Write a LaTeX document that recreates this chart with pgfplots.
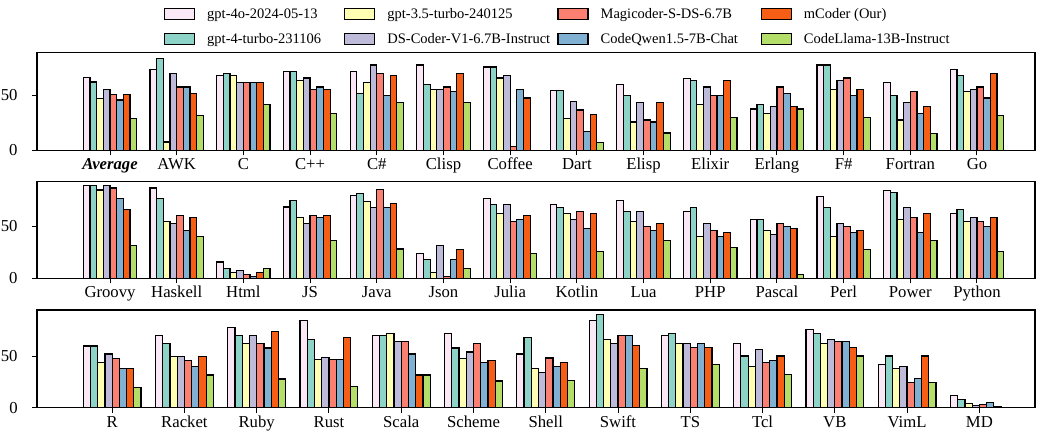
\documentclass[border=0pt]{standalone}
\usepackage{fontspec}
\setmainfont{Liberation Serif}
\usepackage{pgfplots}
\usepackage{pgfplotstable}
\pgfplotsset{compat=1.18}

\definecolor{cA}{HTML}{FBE8F6}
\definecolor{cB}{HTML}{8DD3C7}
\definecolor{cC}{HTML}{FFFFB3}
\definecolor{cD}{HTML}{BEBADA}
\definecolor{cE}{HTML}{FB8072}
\definecolor{cF}{HTML}{80B1D3}
\definecolor{cG}{HTML}{F65E16}
\definecolor{cH}{HTML}{B3DE69}

% columns: a=gpt-4o b=gpt-4-turbo c=gpt-3.5 d=DS-Coder e=Magicoder f=CodeQwen g=mCoder h=CodeLlama
\pgfplotstableread{
a b c d e f g h
65.6 61.7 47.0 55.1 50.6 45.5 50.6 28.6
73.2 83.1 7.5 69.3 57.2 57.2 51.2 31.3
67.5 69.3 67.5 61.1 61.1 61.1 61.1 41.6
71.4 71.4 63.3 65.4 55.1 57.2 55.1 33.4
71.4 51.2 61.1 77.1 69.3 49.4 67.5 43.4
77.1 59.3 55.1 55.1 57.2 53.3 69.3 43.4
75.3 75.3 65.4 67.5 3.3 55.1 47.3 0
54.2 54.2 28.6 44.3 36.4 17.2 32.5 7.2
59.3 49.4 25.6 43.4 27.4 25.6 43.4 15.7
65.1 63.3 41.6 57.2 49.4 49.4 63.3 29.5
37.3 41.6 33.4 39.5 57.2 51.2 39.5 37.3
77.1 77.1 55.1 63.3 65.4 49.4 55.1 29.5
61.4 49.4 27.4 43.4 53.3 33.4 39.5 15.4
73.2 67.5 53.3 55.1 57.2 47.3 69.3 31.3
}\rowone

\pgfplotstableread{
a b c d e f g h
88.6 88.6 84.4 88.6 86.4 76.2 66.0 31.5
86.4 76.2 54.2 52.3 60.2 45.9 58.0 39.8
15.6 9.6 5.4 7.6 3.5 1.6 5.4 9.6
68.2 74.3 58.0 52.3 60.2 58.0 60.2 36.0
79.3 81.3 73.6 67.9 85.1 67.9 71.7 28.0
23.6 17.8 5.4 31.5 1.6 17.8 27.7 9.6
76.2 70.4 62.1 70.4 54.2 56.1 59.9 23.6
70.4 67.9 62.1 56.1 64.0 47.8 62.1 25.8
74.3 64.0 54.2 64.0 49.7 45.9 52.3 36.0
64.0 67.9 39.8 52.3 45.9 39.8 44.0 29.6
56.1 56.1 45.9 42.1 52.3 49.7 47.8 3.5
78.1 67.9 39.8 52.3 49.7 44.0 45.9 27.7
84.1 82.2 56.1 67.9 58.0 44.0 62.1 36.0
62.1 66.0 54.2 58.0 54.2 49.7 58.0 25.8
}\rowtwo

\pgfplotstableread{
a b c d e f g h
59.7 59.7 43.9 51.9 47.4 37.7 37.7 19.7
70.0 61.9 49.7 49.7 45.8 39.7 49.7 31.6
77.7 70.0 61.9 70.0 61.9 57.7 73.9 27.7
84.5 65.8 46.8 48.7 46.8 46.8 67.7 20.6
70.0 70.0 71.6 63.9 63.9 51.9 31.6 31.6
71.6 57.7 47.4 53.9 61.9 43.9 45.8 25.8
51.9 67.7 37.7 33.9 48.0 40.0 44.0 26.0
84.0 90.0 66.0 62.0 70.0 70.0 60.0 38.0
70.0 72.0 62.0 62.0 58.0 62.0 58.0 42.0
62.0 50.0 40.0 56.0 44.0 46.0 50.0 32.0
76.0 72.0 62.0 66.0 64.0 64.0 58.0 50.0
42.0 50.0 38.0 40.0 24.0 28.0 50.0 24.0
12.0 8.0 4.0 2.0 3.0 5.0 1.0 0.0
}\rowthree

\newcommand{\bars}[4]{%
  \addplot[ybar, bar width=0.1, bar shift=0pt, fill=#1, draw=black, line width=0.6pt,
    legend image code/.code={\draw[fill=#1,draw=black,line width=0.6pt] (0pt,-2.75pt) rectangle (15pt,2.75pt);}]
    table[x expr=\coordindex+#2, y=#3] {#4};}

\pgfplotsset{rowstyle/.style={
  scale only axis, width=499pt, ymin=0, ytick={0,50},
  axis line style={black, line width=0.6pt},
  tick align=outside, major tick length=2.5pt,
  tick style={black, line width=0.5pt},
  xtick pos=lower, ytick pos=left,
  /pgf/number format/assume math mode=true,
  tick label style={font=\fontsize{8.35}{10}\selectfont},
  xticklabel style={anchor=base, inner sep=0pt, yshift=-7.2pt},
  yticklabel style={anchor=east, inner sep=0pt, xshift=-7pt},
}}

\begin{document}
\begin{tikzpicture}
\path[use as bounding box] (-18.5pt,-139.85pt) rectangle (501pt,75.15pt);

\begin{axis}[rowstyle, at={(0pt,0pt)}, anchor=south west, height=49pt,
  xmin=-1.095, xmax=13.87, ymax=88.6, xtick={0,...,13},
  xticklabels={\textbf{\textit{Average}},AWK,C,C++,C\#,Clisp,Coffee,Dart,Elisp,Elixir,Erlang,F\#,Fortran,Go},
  legend columns=4, legend cell align=left,
  legend style={draw=none, fill=none, at={(0.1273,1)}, anchor=south west, yshift=3pt,
    inner sep=0pt, outer sep=0pt, column sep=0pt, row sep=5.4pt,
    font=\fontsize{7.25}{8}\selectfont,
    nodes={inner sep=0pt, text height=5.5pt, text depth=1.6pt}},
]
\bars{cA}{-0.35}{a}{\rowone}
\addlegendentry{\hspace*{6pt}\makebox[68.5pt][l]{gpt-4o-2024-05-13}}
\bars{cC}{-0.15}{c}{\rowone}
\addlegendentry{\hspace*{6pt}\makebox[85pt][l]{gpt-3.5-turbo-240125}}
\bars{cE}{0.05}{e}{\rowone}
\addlegendentry{\hspace*{6pt}\makebox[80pt][l]{Magicoder-S-DS-6.7B}}
\bars{cG}{0.25}{g}{\rowone}
\addlegendentry{\hspace*{6pt}\makebox[80pt][l]{mCoder (Our)}}
\bars{cB}{-0.25}{b}{\rowone}
\addlegendentry{\hspace*{6pt}\makebox[68.5pt][l]{gpt-4-turbo-231106}}
\bars{cD}{-0.05}{d}{\rowone}
\addlegendentry{\hspace*{6pt}\makebox[85pt][l]{DS-Coder-V1-6.7B-Instruct}}
\bars{cF}{0.15}{f}{\rowone}
\addlegendentry{\hspace*{6pt}\makebox[80pt][l]{CodeQwen1.5-7B-Chat}}
\bars{cH}{0.35}{h}{\rowone}
\addlegendentry{\hspace*{6pt}\makebox[80pt][l]{CodeLlama-13B-Instruct}}
\end{axis}

\begin{axis}[rowstyle, at={(0pt,-64pt)}, anchor=south west, height=48.3pt,
  xmin=-1.095, xmax=13.87, ymax=92.4, xtick={0,...,13},
  xticklabels={Groovy,Haskell,Html,JS,Java,Json,Julia,Kotlin,Lua,PHP,Pascal,Perl,Power,Python},
]
\bars{cA}{-0.35}{a}{\rowtwo}
\bars{cB}{-0.25}{b}{\rowtwo}
\bars{cC}{-0.15}{c}{\rowtwo}
\bars{cD}{-0.05}{d}{\rowtwo}
\bars{cE}{0.05}{e}{\rowtwo}
\bars{cF}{0.15}{f}{\rowtwo}
\bars{cG}{0.25}{g}{\rowtwo}
\bars{cH}{0.35}{h}{\rowtwo}
\end{axis}

\begin{axis}[rowstyle, at={(0pt,-128.7pt)}, anchor=south west, height=48.85pt,
  xmin=-1.04, xmax=12.77, ymax=94.5, xtick={0,...,12},
  xticklabels={R,Racket,Ruby,Rust,Scala,Scheme,Shell,Swift,TS,Tcl,VB,VimL,MD},
]
\bars{cA}{-0.35}{a}{\rowthree}
\bars{cB}{-0.25}{b}{\rowthree}
\bars{cC}{-0.15}{c}{\rowthree}
\bars{cD}{-0.05}{d}{\rowthree}
\bars{cE}{0.05}{e}{\rowthree}
\bars{cF}{0.15}{f}{\rowthree}
\bars{cG}{0.25}{g}{\rowthree}
\bars{cH}{0.35}{h}{\rowthree}
\end{axis}
\end{tikzpicture}
\end{document}
